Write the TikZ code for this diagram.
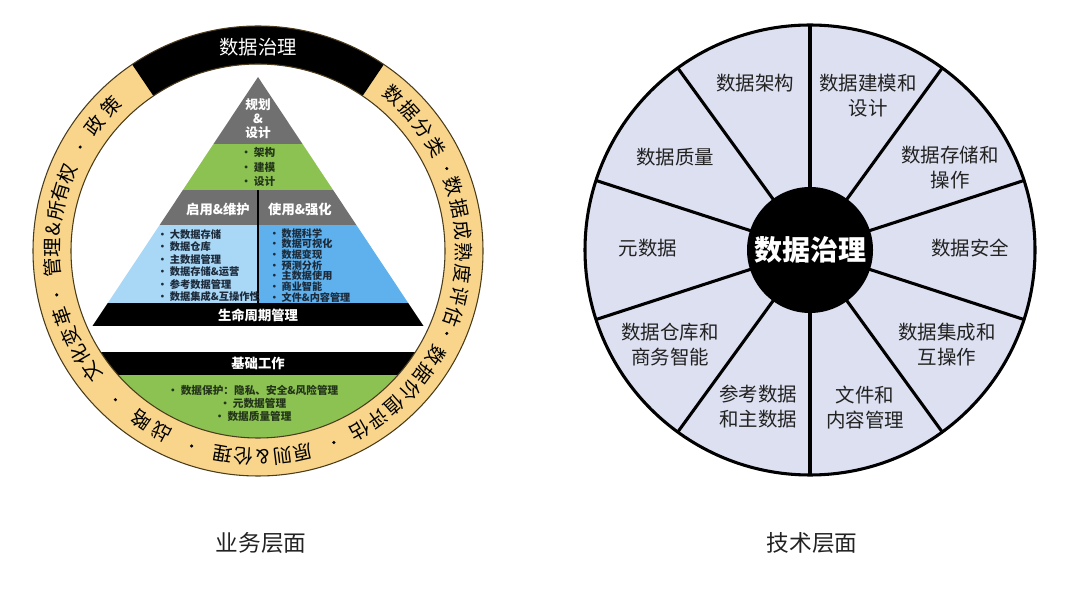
\documentclass[tikz,border=0pt]{standalone}
\usepackage{fontspec}
\setmainfont{Noto Sans CJK SC}
\usetikzlibrary{calc,positioning}
\definecolor{ringgold}{HTML}{F8D58A}
\definecolor{ringline}{HTML}{4A3C1C}
\definecolor{pyrgray}{HTML}{707070}
\definecolor{pyrgreen}{HTML}{8CC252}
\definecolor{lightblue}{HTML}{A9D7F6}
\definecolor{midblue}{HTML}{5EB1EC}
\definecolor{wheelfill}{HTML}{DDE0F0}
\definecolor{textdark}{HTML}{222222}
\definecolor{listnavy}{HTML}{1C2A3A}
\definecolor{listgreen}{HTML}{24361A}
\tikzstyle{spoke} = [line width=2.3pt, black]
\tikzstyle{ringchar} = [inner sep=0pt, font=\fontsize{14.5}{14.5}\selectfont]
\tikzstyle{bandtext} = [text=white, inner sep=0pt, font=\fontsize{10}{12}\selectfont\bfseries]

\begin{document}
\begin{tikzpicture}[x=0.75pt,y=0.75pt]
\tikzset{
  ringdot/.style={fill=black},
  wheellabel/.style={align=center, text=textdark, inner sep=0pt, font=\fontsize{14.6}{18.75}\selectfont},
  caption/.style={text=textdark, inner sep=0pt, font=\fontsize{17}{17}\selectfont}
}
\useasboundingbox (0,0) rectangle (1080,589);

% business view
\begin{scope}[shift={(258,338)}]
\coordinate (apex) at (0,174);
\coordinate (bl) at (-165.5,-75);
\coordinate (br) at (165.5,-75);
\begin{scope}
\clip (apex) -- (bl) -- (br) -- cycle;
\fill[pyrgray] (-170,175) rectangle (170,107);
\fill[pyrgreen] (-170,107) rectangle (170,60.5);
\fill[pyrgray] (-170,60.5) rectangle (170,26);
\fill[lightblue] (-170,26) rectangle (0,-52);
\fill[midblue] (0,26) rectangle (170,-52);
\fill[black] (-170,-52) rectangle (170,-76);
\end{scope}
\draw[line width=1pt] (0,60.5) -- (0,-52);

\begin{scope}
\clip (0,0) circle (187);
\fill[black] (-190,-101) rectangle (190,-124);
\fill[pyrgreen] (-190,-124) rectangle (190,-190);
\end{scope}

\fill[ringgold, even odd rule] (0,0) circle (225) (0,0) circle (187);
\fill[black] (56:225) arc (56:124:225) -- (124:187) arc (124:56:187) -- cycle;
\draw[ringline, line width=0.8pt] (0,0) circle (225);
\draw[ringline, line width=0.8pt] (0,0) circle (187);

\node[ringchar, text=white] (gov) at (0,204) {数据治理};

\foreach \c [count=\i] in {数,据,分,类}
  \node[ringchar, rotate={49-(\i-1)*6.2-90}] (cls\i) at ({49-(\i-1)*6.2}:206) {\c};
\foreach \c [count=\i] in {数,据,成,熟,度,评,估}
  \node[ringchar, rotate={18.2-(\i-1)*6.17-90}] (mat\i) at ({18.2-(\i-1)*6.17}:206) {\c};
\foreach \c [count=\i] in {数,据,价,值,评,估}
  \node[ringchar, rotate={-30.5-(\i-1)*6-90}] (val\i) at ({-30.5-(\i-1)*6}:206) {\c};
\foreach \c [count=\i] in {原,则,\&,伦,理}
  \node[ringchar, rotate={-77.4-(\i-1)*5.6-90}] (eth\i) at ({-77.4-(\i-1)*5.6}:206) {\c};
\foreach \c [count=\i] in {战,略}
  \node[ringchar, rotate={-118-(\i-1)*6.6-90}] (str\i) at ({-118-(\i-1)*6.6}:206) {\c};
\foreach \c [count=\i] in {文,化,变,革}
  \node[ringchar, rotate={-143.9-(\i-1)*5.8-90}] (cul\i) at ({-143.9-(\i-1)*5.8}:206) {\c};
\foreach \c [count=\i] in {管,理,\&,所,有,权}
  \node[ringchar, rotate={-175.5-(\i-1)*5.3-90}] (own\i) at ({-175.5-(\i-1)*5.3}:206) {\c};
\foreach \c [count=\i] in {政,策}
  \node[ringchar, rotate={-217.6-(\i-1)*7-90}] (pol\i) at ({-217.6-(\i-1)*7}:206) {\c};
\foreach \a in {23.6,-23.6,-68.4,-108.8,-133.8,-167.7,-210.3}
  \fill[ringdot] (\a:206) circle (1.7);

\node[bandtext, align=center, font=\fontsize{9.5}{10.5}\selectfont\bfseries] (plan) at (0,132) {规划\\\&\\设计};
\node[align=center, inner sep=0pt, text=listgreen, font=\fontsize{8}{10.9}\selectfont\bfseries] (planlist) at (0,84) {· 架构\\· 建模\\· 设计};
\node[bandtext] (enable) at (-40,42) {启用\&维护};
\node[bandtext] (use) at (42,42) {使用\&强化};
\node[anchor=west, align=left, inner sep=0pt, text=listnavy, font=\fontsize{7.7}{9.4}\selectfont\bfseries] (enablelist) at (-101,-14.5)
  {· 大数据存储\\· 数据仓库\\· 主数据管理\\· 数据存储\&运营\\· 参考数据管理\\· 数据集成\&互操作性};
\node[anchor=west, align=left, inner sep=0pt, text=listnavy, font=\fontsize{7.6}{8}\selectfont\bfseries] (uselist) at (11,-14.3)
  {· 数据科学\\· 数据可视化\\· 数据变现\\· 预测分析\\· 主数据使用\\· 商业智能\\· 文件\&内容管理};
\node[bandtext] (life) at (0,-64) {生命周期管理};
\node[bandtext] (base) at (0,-112.5) {基础工作};
\node[align=center, inner sep=0pt, text=listgreen, font=\fontsize{8}{9.75}\selectfont\bfseries] (baselist) at (-5,-152.7)
  {· 数据保护：隐私、安全\&风险管理\\· 元数据管理\\· 数据质量管理};
\end{scope}

% technical view
\begin{scope}[shift={(810,339)}]
\fill[wheelfill] (0,0) circle (225);
\foreach \a in {90,54,...,-234}
  \draw[spoke] (0,0) -- (\a:225);
\draw[spoke] (0,0) circle (225);
\node[circle, fill=black, minimum size=94.5pt, inner sep=0pt, text=white, font=\fontsize{21}{21}\selectfont\bfseries] (hub) at (0,0) {数据治理};
\node[wheellabel] (arch) at (-55,167) {数据架构};
\node[wheellabel] (model) at (58,154) {数据建模和\\设计};
\node[wheellabel] (store) at (140,82.5) {数据存储和\\操作};
\node[wheellabel] (sec) at (160,2) {数据安全};
\node[wheellabel] (integ) at (137,-94.5) {数据集成和\\互操作};
\node[wheellabel] (doc) at (55,-157.5) {文件和\\内容管理};
\node[wheellabel] (ref) at (-52,-156.5) {参考数据\\和主数据};
\node[wheellabel] (dw) at (-140,-94.5) {数据仓库和\\商务智能};
\node[wheellabel] (meta) at (-162,2) {元数据};
\node[wheellabel] (qual) at (-135,93) {数据质量};
\end{scope}

\node[caption] (bizlabel) at (261,46) {业务层面};
\node[caption] (techlabel) at (812,46) {技术层面};
\end{tikzpicture}
\end{document}
